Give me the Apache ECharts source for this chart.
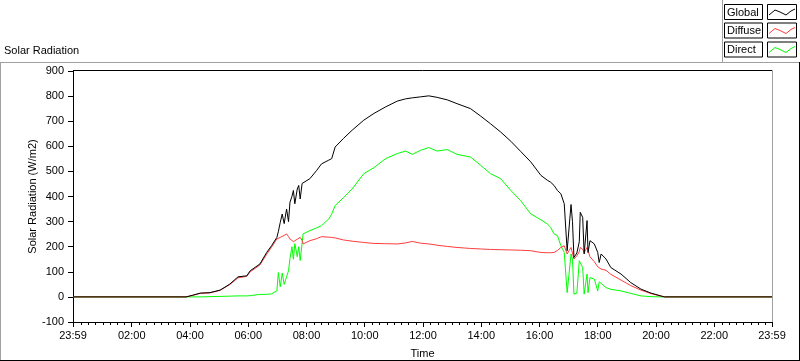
<!DOCTYPE html>
<html>
<head>
<meta charset="utf-8">
<script src="https://cdn.jsdelivr.net/npm/echarts@6/dist/echarts.min.js"></script>
<style>
html,body{margin:0;padding:0;background:#fff;}
#chart{width:800px;height:361px;}
</style>
</head>
<body>
<div id="chart"></div>
<script>
const seriesNames = ['Global', 'Diffuse', 'Direct'];
const seriesColors = ['#000000', '#ff3c3c', '#00ff00'];

const times = ['00:00','03:52','04:06','04:21','04:41','05:02','05:22','05:39','05:57','06:04','06:24','06:38','06:48','06:59',
'07:02','07:06','07:10','07:14','07:19','07:23','07:26','07:30','07:33','07:36','07:41','07:44','07:47','07:51','07:53',
'08:07','08:21','08:31','08:46','08:52','08:59','09:16','09:34','09:58','10:19','10:43','11:07','11:24','11:38','11:55',
'12:12','12:29','12:50','13:10','13:38','13:59','14:19','14:40','15:01','15:21','15:42','16:03','16:16','16:23','16:30',
'16:37','16:44','16:51','16:57','17:01','17:05','17:08','17:11','17:17','17:22','17:24','17:29','17:32','17:38','17:40',
'17:44','17:53','18:00','18:03','18:07','18:17','18:27','18:48','19:08','19:29','19:50','20:10','20:18','23:59'];

const globalRad = [0,0,7,15,17,27,51,80,84,104,131,177,204,237,
260,297,330,292,350,300,377,400,424,371,430,444,390,452,457,
471,504,530,545,551,597,631,664,704,731,757,780,789,793,797,
801,795,785,770,750,720,690,657,620,580,538,484,465,457,444,
424,411,371,184,190,368,300,157,175,220,337,317,171,304,177,
224,211,177,137,171,151,117,91,57,31,15,4,0,0];

const diffuseRad = [0,0,6,14,16,26,49,76,82,100,127,170,198,231,
235,237,240,245,251,240,231,225,220,217,230,237,237,225,211,
224,232,240,238,237,235,227,222,217,213,212,211,215,221,214,
211,206,201,197,193,191,189,188,187,186,184,177,176,176,177,
185,197,204,171,185,197,190,151,164,180,197,190,177,197,185,
160,140,120,115,111,106,90,67,45,27,13,3,0,0];

const directRad = [0,0,0,0,1,2,3,4,4,5,10,10,12,24,
97,40,95,50,80,104,152,200,150,212,160,200,145,215,251,
264,275,284,311,330,364,395,430,491,515,551,571,581,568,584,
595,581,587,568,557,524,491,471,424,384,331,307,291,277,251,
244,204,177,17,24,171,150,11,15,144,140,117,11,91,17,
77,71,24,60,64,37,30,24,14,4,1,0,0,0];

const xTickValues = [-1,120,240,360,480,600,720,840,960,1080,1200,1320,1439];
const xTickLabels = ['23:59','02:00','04:00','06:00','08:00','10:00','12:00','14:00','16:00','18:00','20:00','22:00','23:59'];
const xMinorTicks = [];
for (let m = 15; m < 1439; m += 15) if (m % 120 !== 0) xMinorTicks.push(m);

function toMin(s) { const p = s.split(':'); return (+p[0]) * 60 + (+p[1]); }
function pairs(vals) { return times.map((t, i) => [toMin(t), vals[i]]); }

const font = 'Liberation Sans';
const chart = echarts.init(document.getElementById('chart'), null, {renderer: 'canvas'});

const legendItems = [];
const rowTops = [4, 22.5, 41.5];
seriesNames.forEach((n, i) => {
  const y = rowTops[i];
  legendItems.push({type:'rect', shape:{x:724.5, y:y+0.5, width:38, height:15}, style:{fill:'#fff', stroke:'#000', lineWidth:1}, silent:true});
  legendItems.push({type:'text', style:{x:727, y:y+8.5, text:n, fill:'#000', font:'11px "'+font+'"', textVerticalAlign:'middle'}, silent:true});
  legendItems.push({type:'rect', shape:{x:767.5, y:y+0.5, width:29, height:15}, style:{fill:'#fff', stroke:'#000', lineWidth:1}, silent:true});
  legendItems.push({type:'polyline', shape:{points:[[769,y+11],[775,y+6],[780,y+8],[786,y+11],[791,y+7],[795,y+5]]}, style:{stroke:seriesColors[i], lineWidth:1, fill:null}, silent:true});
});

const option = {
  animation: false,
  backgroundColor: '#ffffff',
  textStyle: {fontFamily: font},
  title: {text: 'Solar Radiation', left: 4, top: 45, padding: 0, textStyle: {fontSize: 11, fontWeight: 'normal', color: '#000', fontFamily: font}},
  grid: {left: 73, top: 71, width: 699, height: 251, containLabel: false, outerBoundsMode: 'none'},
  xAxis: {
    type: 'value', min: -1, max: 1439,
    name: 'Time', nameLocation: 'middle', nameGap: 26, nameMoveOverlap: false,
    nameTextStyle: {fontSize: 11, color: '#000', fontFamily: font},
    axisLine: {show: true, onZero: false, lineStyle: {color: '#000', width: 1}},
    axisTick: {show: true, customValues: xTickValues, length: 5, lineStyle: {color: '#000'}},
    axisLabel: {show: true, customValues: xTickValues, margin: 8, fontSize: 11, color: '#000', fontFamily: font,
      formatter: function (v) { const k = xTickValues.indexOf(v); return k >= 0 ? xTickLabels[k] : ''; }},
    splitLine: {show: false}
  },
  yAxis: {
    type: 'value', min: -100, max: 900, interval: 100,
    name: 'Solar Radiation (W/m2)', nameLocation: 'middle', nameGap: 35, nameRotate: 90, nameMoveOverlap: false,
    nameTextStyle: {fontSize: 11, color: '#000', fontFamily: font},
    axisLine: {show: true, onZero: false, lineStyle: {color: '#000', width: 1}},
    axisTick: {show: true, length: 5, lineStyle: {color: '#000'}},
    axisLabel: {margin: 9, fontSize: 11, color: '#000', fontFamily: font},
    splitLine: {show: false}
  },
  series: [
    {name: 'minorTicks', type: 'custom', data: xMinorTicks.map(m => [m, -100]), clip: false, silent: true, z: 1,
      renderItem: function (params, api) {
        const p = api.coord([api.value(0), api.value(1)]);
        const x = Math.round(p[0]) + 0.5;
        const y = Math.round(p[1]);
        return {type: 'line', shape: {x1: x, y1: y, x2: x, y2: y + 3}, style: {stroke: '#000', lineWidth: 1}};
      }},
    {name: seriesNames[2], type: 'line', data: pairs(directRad), showSymbol: false, symbol: 'none', lineStyle: {color: seriesColors[2], width: 1}, z: 2},
    {name: seriesNames[1], type: 'line', data: pairs(diffuseRad), showSymbol: false, symbol: 'none', lineStyle: {color: seriesColors[1], width: 1}, z: 3},
    {name: seriesNames[0], type: 'line', data: pairs(globalRad), showSymbol: false, symbol: 'none', lineStyle: {color: seriesColors[0], width: 1}, z: 4}
  ],
  graphic: [
    {type:'line', shape:{x1:0, y1:62.5, x2:800, y2:62.5}, style:{stroke:'#a0a0a0', lineWidth:1}, silent:true},
    {type:'line', shape:{x1:722.5, y1:0, x2:722.5, y2:62}, style:{stroke:'#a0a0a0', lineWidth:1}, silent:true},
    {type:'line', shape:{x1:0.5, y1:62, x2:0.5, y2:361}, style:{stroke:'#a0a0a0', lineWidth:1}, silent:true},
    {type:'line', shape:{x1:0, y1:360.5, x2:800, y2:360.5}, style:{stroke:'#000', lineWidth:1}, silent:true},
    {type:'line', shape:{x1:799.5, y1:62, x2:799.5, y2:361}, style:{stroke:'#000', lineWidth:1}, silent:true},
    {type:'line', shape:{x1:73, y1:70.5, x2:772, y2:70.5}, style:{stroke:'#000', lineWidth:1}, silent:true},
    {type:'line', shape:{x1:772.5, y1:70, x2:772.5, y2:322}, style:{stroke:'#a0a0a0', lineWidth:1}, silent:true}
  ].concat(legendItems)
};
chart.setOption(option);
</script>
</body>
</html>
